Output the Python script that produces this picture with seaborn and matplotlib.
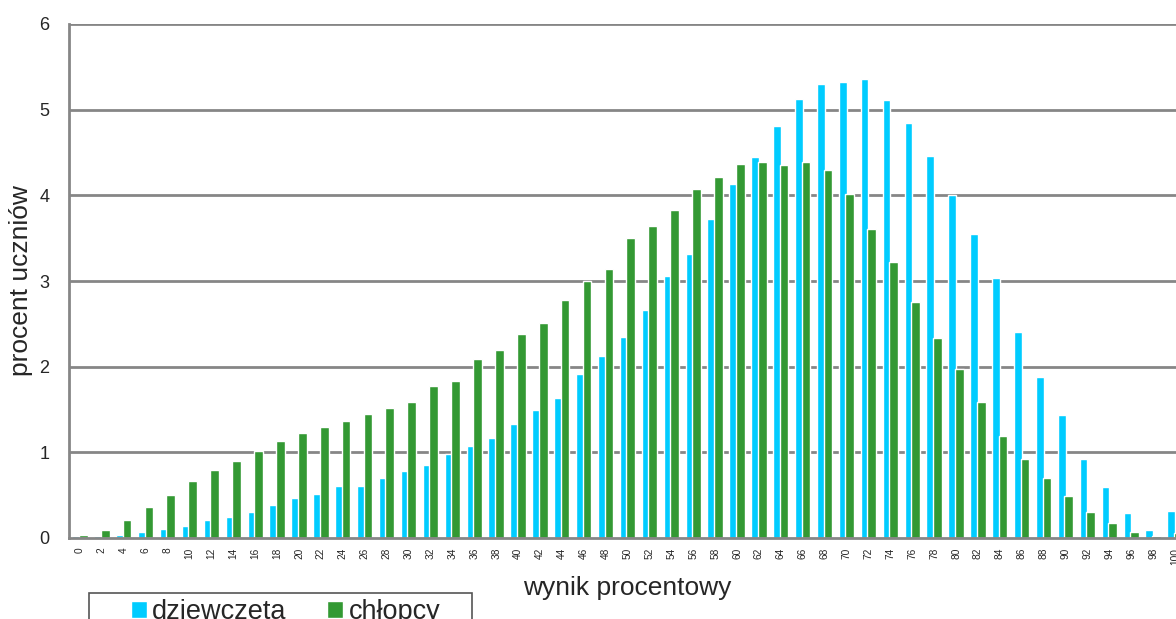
import matplotlib
matplotlib.use("Agg")
import matplotlib.pyplot as plt
import seaborn as sns
import pandas as pd
import numpy as np
from matplotlib.ticker import FixedLocator
from matplotlib.patches import Rectangle

categories = [str(v) for v in range(0, 101, 2)]
dziewczeta = [0.02, 0.02, 0.03, 0.07, 0.10, 0.14, 0.21, 0.24, 0.30, 0.39,
              0.47, 0.51, 0.61, 0.61, 0.70, 0.78, 0.85, 0.98, 1.07, 1.17,
              1.33, 1.50, 1.64, 1.91, 2.12, 2.35, 2.66, 3.06, 3.32, 3.72,
              4.13, 4.45, 4.81, 5.13, 5.30, 5.32, 5.36, 5.11, 4.85, 4.46,
              4.00, 3.55, 3.03, 2.41, 1.88, 1.43, 0.92, 0.59, 0.29, 0.09,
              0.31]
chlopcy = [0.03, 0.09, 0.21, 0.36, 0.50, 0.67, 0.79, 0.90, 1.02, 1.13,
           1.23, 1.29, 1.37, 1.45, 1.52, 1.59, 1.78, 1.83, 2.09, 2.20,
           2.38, 2.51, 2.78, 3.00, 3.14, 3.50, 3.64, 3.83, 4.07, 4.21,
           4.37, 4.39, 4.35, 4.39, 4.30, 4.01, 3.61, 3.22, 2.76, 2.34,
           1.97, 1.59, 1.19, 0.92, 0.70, 0.49, 0.30, 0.17, 0.07, 0.02,
           0.06]
series_names = ["dziewczęta", "chłopcy"]
colors = ["#00CCFF", "#339933"]
y_ticks = [0, 1, 2, 3, 4, 5, 6]

df = pd.DataFrame({
    "wynik": categories * 2,
    "procent": dziewczeta + chlopcy,
    "plec": [series_names[0]] * len(categories) + [series_names[1]] * len(categories),
})

sns.set_style("white")
plt.rcParams["font.family"] = ["Liberation Sans", "DejaVu Sans"]

W, H = 1176, 619
fig = plt.figure(figsize=(W / 100, H / 100), dpi=100)
ax = fig.add_axes([69 / W, 1 - 538 / H, (1186 - 69) / W, (538 - 24) / H])

sns.barplot(data=df, x="wynik", y="procent", hue="plec", order=categories,
            hue_order=series_names, palette=colors, width=0.70,
            saturation=1, ax=ax, legend=True)

# slight overlap of the second series over the first (Excel style)
n = len(categories)
green_rgb = matplotlib.colors.to_rgb(colors[1])
for p in ax.patches:
    if tuple(p.get_facecolor()[:3]) == green_rgb:
        p.set_x(p.get_x() - 0.05)
        p.set_width(p.get_width() + 0.05)
        p.set_zorder(3)

grid_col = "#868686"
ax.set_ylim(0, 6)
ax.set_xlim(-0.5, n - 0.5)
ax.set_yticks(y_ticks)
ax.set_yticklabels([str(t) for t in y_ticks], fontsize=13)
for t in y_ticks[1:]:
    ax.axhline(t, color=grid_col, lw=2, zorder=0)
ax.set_axisbelow(True)

ax.set_xticks(range(n))
ax.set_xticklabels(categories, rotation=90, fontsize=7.3)
ax.xaxis.set_minor_locator(FixedLocator(np.arange(-0.5, n, 1)))
ax.tick_params(axis="x", which="major", length=0, pad=7)
ax.tick_params(axis="x", which="minor", length=5, width=1.5, color=grid_col, direction="out")
ax.tick_params(axis="y", which="major", length=5, width=1.5, color=grid_col, direction="out", pad=9)

for side in ["top", "right"]:
    ax.spines[side].set_visible(False)
for side in ["left", "bottom"]:
    ax.spines[side].set_color(grid_col)
    ax.spines[side].set_linewidth(2)
    ax.spines[side].set_zorder(4)

ax.set_xlabel("wynik procentowy", fontsize=19, labelpad=8)
ax.set_ylabel("procent uczniów", fontsize=19, labelpad=4.5)

handles, labels = ax.get_legend_handles_labels()
ax.get_legend().remove()
fig.legend(handles, labels, loc="upper left", bbox_to_anchor=(131 / W, 1 - 599 / H),
           ncol=2, fontsize=19.5, frameon=False,
           handlelength=0.58, handleheight=0.58, handletextpad=0.2, columnspacing=1.5,
           borderpad=0, borderaxespad=0)
fig.add_artist(Rectangle((89 / W, 1 - 640 / H), (472 - 89) / W, 47 / H,
                         transform=fig.transFigure, fill=False,
                         edgecolor="#555555", linewidth=1.2, clip_on=False))

fig.savefig("out.png", dpi=100)
